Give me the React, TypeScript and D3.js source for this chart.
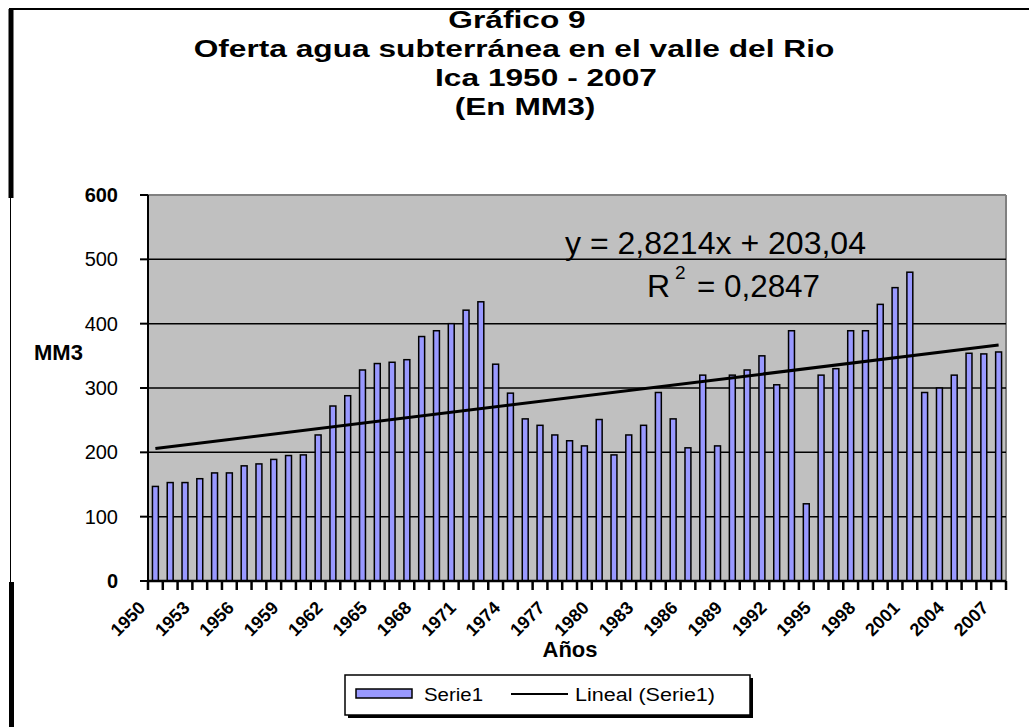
import React from "react";
import * as d3 from "d3";

// años 1950 - 2007
const years = [
  1950, 1951, 1952, 1953, 1954, 1955, 1956, 1957, 1958, 1959,
  1960, 1961, 1962, 1963, 1964, 1965, 1966, 1967, 1968, 1969,
  1970, 1971, 1972, 1973, 1974, 1975, 1976, 1977, 1978, 1979,
  1980, 1981, 1982, 1983, 1984, 1985, 1986, 1987, 1988, 1989,
  1990, 1991, 1992, 1993, 1994, 1995, 1996, 1997, 1998, 1999,
  2000, 2001, 2002, 2003, 2004, 2005, 2006, 2007,
];

// oferta agua subterranea (MM3)
const serie1 = [
  147, 153, 153, 159, 168, 168, 179, 182, 189, 195,
  196, 227, 272, 288, 328, 338, 340, 344, 380, 389,
  400, 421, 434, 337, 292, 252, 242, 227, 218, 210,
  251, 196, 227, 242, 293, 252, 207, 320, 210, 320,
  328, 350, 305, 389, 120, 320, 330, 389, 389, 430,
  456, 480, 293, 300, 320, 354, 353, 356,
];

const tickLabels = [
  "1950", "1953", "1956", "1959", "1962", "1965", "1968", "1971", "1974", "1977",
  "1980", "1983", "1986", "1989", "1992", "1995", "1998", "2001", "2004", "2007",
];

const yTicks = [0, 100, 200, 300, 400, 500, 600];

// tendencia lineal dada en el grafico
const slope = 2.8214;
const intercept = 203.04;

const FONT = "'Liberation Sans', Arial, sans-serif";

export default function App() {
  const left = 148, right = 1006, top = 195, bottom = 581;
  const pad = 0.6;

  const x = d3.scaleBand<number>()
    .domain(years)
    .range([left, right])
    .paddingInner(pad)
    .paddingOuter(pad / 2);
  const y = d3.scaleLinear().domain([0, 600]).range([bottom, top]);

  const step = x.step();
  const center = (yr: number) => (x(yr) as number) + x.bandwidth() / 2;

  const trend = years.map((yr, i) => [center(yr), y(intercept + slope * (i + 1))] as [number, number]);
  const trendLine = d3.line()([trend[0], trend[trend.length - 1]]);

  // limites de categoria para las marcas del eje x
  const bounds = years.map((yr) => (x(yr) as number) - step * pad / 2);
  bounds.push(right);

  const titleLine = (t: string, cx: number, by: number) => (
    <text
      transform={`translate(${cx},${by}) scale(1.32,1)`}
      textAnchor="middle"
      fontFamily={FONT}
      fontWeight="bold"
      fontSize={24}
    >
      {t}
    </text>
  );

  return (
    <svg
      width={1029}
      height={727}
      style={{ position: "absolute", left: 0, top: 0, background: "#fff" }}
    >
      {/* marco */}
      <line x1={9} x2={1029} y1={9} y2={9} stroke="#000" strokeWidth={2} />
      <line x1={11} x2={11} y1={9} y2={198} stroke="#000" strokeWidth={5} />
      <line x1={10.5} x2={10.5} y1={198} y2={582} stroke="#000" strokeWidth={1} />
      <line x1={11.5} x2={11.5} y1={582} y2={727} stroke="#000" strokeWidth={5} />

      {/* titulo */}
      {titleLine("Gráfico 9", 517, 28)}
      {titleLine("Oferta agua subterránea en el valle del Rio", 514, 57)}
      {titleLine("Ica 1950 - 2007", 546, 86)}
      {titleLine("(En MM3)", 525, 115)}

      {/* area de trazado */}
      <rect x={left} y={top} width={right - left} height={bottom - top} fill="#C0C0C0" />
      <line x1={left} x2={right} y1={top} y2={top} stroke="#808080" strokeWidth={2} />
      <line x1={right} x2={right} y1={top} y2={bottom} stroke="#808080" strokeWidth={2} />
      {yTicks.filter((t) => t > 0 && t < 600).map((t) => (
        <line key={t} x1={left} x2={right} y1={y(t)} y2={y(t)} stroke="#000" strokeWidth={1.5} />
      ))}

      {/* barras */}
      {years.map((yr, i) => (
        <rect
          key={yr}
          x={x(yr)}
          y={y(serie1[i])}
          width={x.bandwidth()}
          height={bottom - y(serie1[i])}
          fill="#9999FF"
          stroke="#000"
          strokeWidth={1.5}
        />
      ))}

      {/* tendencia */}
      <path d={trendLine ?? ""} stroke="#000" strokeWidth={3} fill="none" />

      {/* eje y */}
      <line x1={left} x2={left} y1={top} y2={bottom} stroke="#000" strokeWidth={2} />
      {yTicks.map((t) => (
        <g key={t}>
          <line x1={140} x2={left} y1={y(t)} y2={y(t)} stroke="#000" strokeWidth={2} />
          <text
            x={118}
            y={y(t) + 7}
            textAnchor="end"
            fontFamily={FONT}
            fontSize={20}
            fontWeight={t === 0 || t === 600 ? "bold" : "normal"}
          >
            {t}
          </text>
        </g>
      ))}
      <text x={34} y={360} fontFamily={FONT} fontWeight="bold" fontSize={22}>MM3</text>

      {/* eje x */}
      <line x1={left} x2={right} y1={bottom} y2={bottom} stroke="#000" strokeWidth={2.5} />
      {bounds.map((b, i) => (
        <line key={i} x1={b} x2={b} y1={bottom} y2={590} stroke="#000" strokeWidth={2.5} />
      ))}
      {tickLabels.map((lab) => {
        const cx = center(+lab) - 9;
        return (
          <text
            key={lab}
            transform={`translate(${cx},609) rotate(-45)`}
            textAnchor="end"
            fontFamily={FONT}
            fontWeight="bold"
            fontSize={18}
          >
            {lab}
          </text>
        );
      })}
      <text x={570} y={657} textAnchor="middle" fontFamily={FONT} fontWeight="bold" fontSize={22}>
        Años
      </text>

      {/* ecuacion */}
      <text x={565} y={254} fontFamily={FONT} fontSize={32} textLength={301} lengthAdjust="spacingAndGlyphs">
        y = 2,8214x + 203,04
      </text>
      <text x={647} y={297} fontFamily={FONT} fontSize={32}>R</text>
      <text x={675} y={279} fontFamily={FONT} fontSize={19}>2</text>
      <text x={697} y={297} fontFamily={FONT} fontSize={32} textLength={123} lengthAdjust="spacingAndGlyphs">
        = 0,2847
      </text>

      {/* leyenda */}
      <rect x={348} y={678} width={405} height={40} fill="#000" />
      <rect x={345} y={675} width={405} height={40} fill="#fff" stroke="#000" strokeWidth={1.5} />
      <rect x={356} y={689} width={56} height={9} fill="#9999FF" stroke="#000" strokeWidth={1.5} />
      <text x={424} y={701} fontFamily={FONT} fontSize={18} textLength={59} lengthAdjust="spacingAndGlyphs">
        Serie1
      </text>
      <line x1={511} x2={568} y1={694} y2={694} stroke="#000" strokeWidth={2} />
      <text x={575} y={701} fontFamily={FONT} fontSize={18} textLength={140} lengthAdjust="spacingAndGlyphs">
        Lineal (Serie1)
      </text>
    </svg>
  );
}
